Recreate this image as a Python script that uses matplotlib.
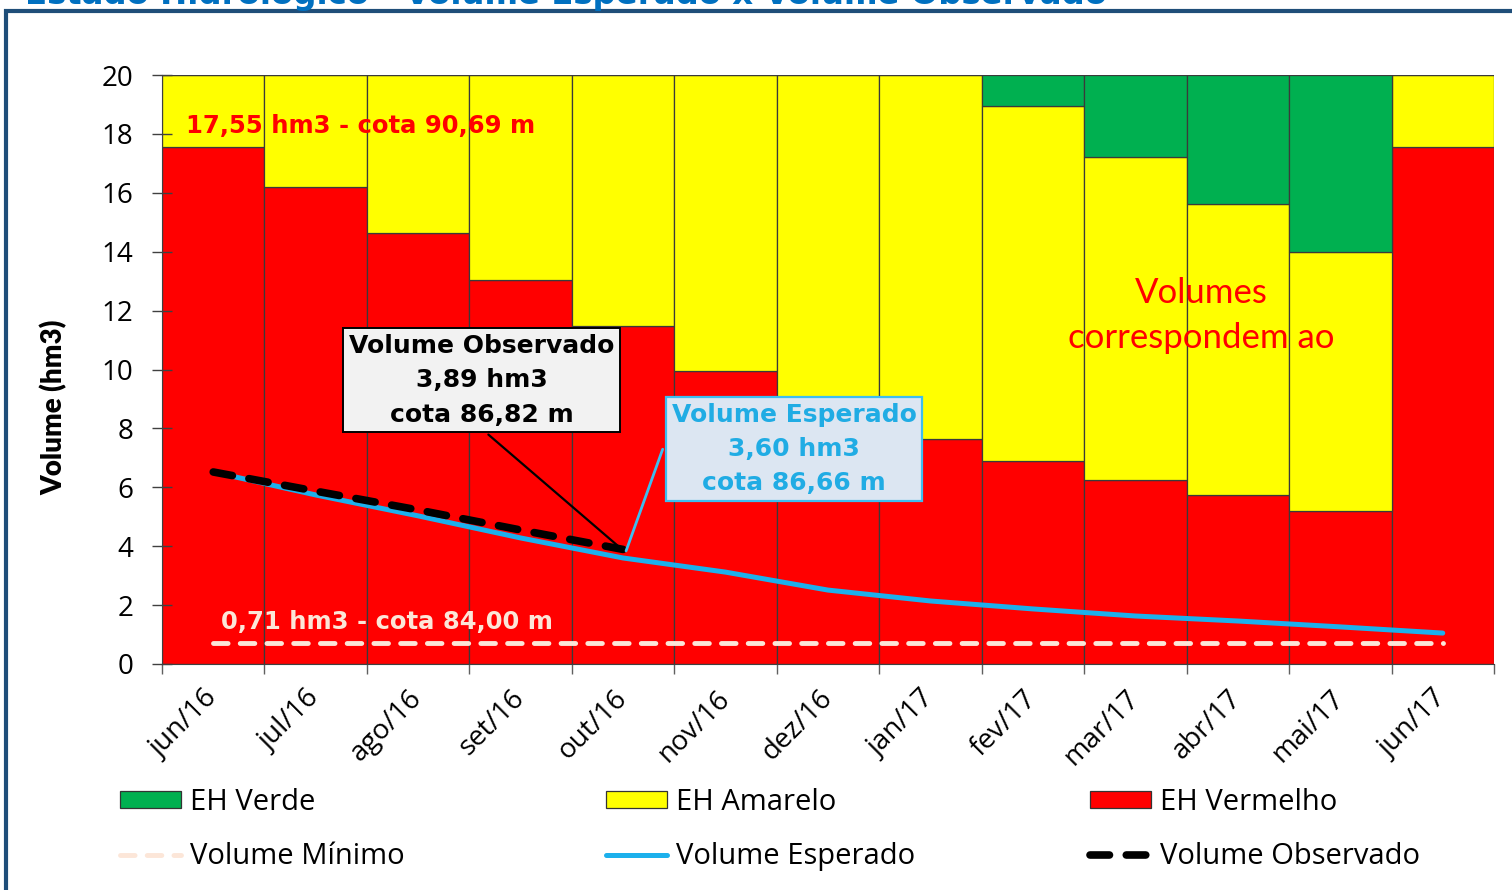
import numpy as np
import matplotlib.pyplot as plt
from matplotlib.patches import Patch, Rectangle
from matplotlib.lines import Line2D

meses = ["jun/16", "jul/16", "ago/16", "set/16", "out/16", "nov/16", "dez/16",
         "jan/17", "fev/17", "mar/17", "abr/17", "mai/17", "jun/17"]

# limites das faixas de estado hidrologico (hm3)
eh_vermelho = [17.55, 16.20, 14.63, 13.04, 11.48, 9.95, 8.80, 7.64, 6.89, 6.25, 5.74, 5.20, 17.55]
eh_amarelo_topo = [20, 20, 20, 20, 20, 20, 20, 20, 18.95, 17.22, 15.62, 13.99, 20]
volume_total = 20

vol_esperado = [6.52, 5.74, 5.03, 4.28, 3.60, 3.12, 2.51, 2.14, 1.87, 1.63, 1.46, 1.26, 1.05]
vol_observado = [6.52, 5.87, 5.23, 4.55, 3.89]
vol_minimo = 0.71

VERMELHO = "#FF0000"
AMARELO = "#FFFF00"
VERDE = "#00B050"
AZUL = "#1CB0EC"
PESSEGO = "#FCE6D8"

x = np.arange(len(meses))
amarelo = np.array(eh_amarelo_topo) - np.array(eh_vermelho)
verde = volume_total - np.array(eh_amarelo_topo)

fig = plt.figure(figsize=(15.12, 8.9), dpi=100)
ax = fig.add_axes([162 / 1512, 1 - 664 / 890, (1494 - 162) / 1512, (664 - 75) / 890])

bar_kw = dict(width=1.0, edgecolor="#3a3a3a", linewidth=0.9, zorder=1)
ax.bar(x, eh_vermelho, color=VERMELHO, **bar_kw)
ax.bar(x, amarelo, bottom=eh_vermelho, color=AMARELO, **bar_kw)
ax.bar(x, verde, bottom=eh_amarelo_topo, color=VERDE, **bar_kw)

estilo_min = dict(color=PESSEGO, lw=3.5, dashes=(3.0, 2.5), dash_capstyle="round")
estilo_esp = dict(color=AZUL, lw=3.6, solid_capstyle="round")
estilo_obs = dict(color="black", lw=5.5, dashes=(2.55, 2.2), dash_capstyle="round")

ax.plot(x, [vol_minimo] * len(x), zorder=3, **estilo_min)
ax.plot(x, vol_esperado, zorder=4, **estilo_esp)
ax.plot(x[:len(vol_observado)], vol_observado, zorder=5, **estilo_obs)

ax.set_xlim(-0.5, len(x) - 0.5)
ax.set_ylim(0, 20)
ax.set_yticks(range(0, 21, 2))
ax.tick_params(axis="y", direction="inout", length=15, width=1, color="#404040",
               labelsize=20, pad=13)
ax.set_xticks(x)
ax.set_xticklabels(meses, rotation=45, ha="right", va="center", rotation_mode="anchor")
ax.set_xticks(np.arange(-0.5, len(x)), minor=True)
ax.tick_params(axis="x", which="major", length=0, labelsize=20, pad=22)
ax.tick_params(axis="x", which="minor", direction="out", length=7, width=1, color="#606060")
for lab in ax.get_xticklabels() + ax.get_yticklabels():
    lab.set_fontfamily("Open Sans")
for s in ["top", "right"]:
    ax.spines[s].set_visible(False)
ax.spines["left"].set_color("#404040")
ax.spines["bottom"].set_color("#404040")
ax.set_ylabel("Volume (hm3)", fontsize=20, fontweight="heavy", family="Lato")
ax.yaxis.set_label_coords(-0.0706, 0.436)

# textos dentro do grafico
ax.text(-0.27, 18.27, "17,55 hm3 - cota 90,69 m", color=VERMELHO, fontsize=17.5,
        fontweight="bold", va="center", ha="left", zorder=6)
ax.text(0.08, 1.43, "0,71 hm3 - cota 84,00 m", color=PESSEGO, fontsize=17.5,
        fontweight="bold", va="center", ha="left", zorder=6)
ax.text(9.64, 11.85, "Volumes\ncorrespondem ao", color=VERMELHO, fontsize=25,
        family="Lato", ha="center", va="center", linespacing=1.5, zorder=6)

ax.annotate("Volume Observado\n3,89 hm3\ncota 86,82 m", xy=(3.99, vol_observado[-1]),
            xytext=(2.62, 9.64), ha="center", va="center", fontsize=18,
            fontweight="bold", color="black", linespacing=1.55,
            bbox=dict(boxstyle="square,pad=0.22", facecolor="#F2F2F2", edgecolor="black", lw=1.4),
            arrowprops=dict(arrowstyle="-", color="black", lw=1.6, relpos=(0.49, 0)),
            zorder=7)
ax.annotate("Volume Esperado\n3,60 hm3\ncota 86,66 m", xy=(4.02, vol_esperado[4] + 0.15),
            xytext=(5.67, 7.30), ha="center", va="center", fontsize=18,
            fontweight="bold", color="#20ACE4", linespacing=1.55,
            bbox=dict(boxstyle="square,pad=0.22", facecolor="#DCE6F2", edgecolor="#3DBEEF", lw=1.6),
            arrowprops=dict(arrowstyle="-", color="#3DBEEF", lw=2,
                            connectionstyle="arc,angleA=180,armA=9,angleB=73,armB=0,rad=0",
                            relpos=(0, 0.5)),
            zorder=7)

# legenda em tres colunas
colunas = [
    [Patch(facecolor=VERDE, edgecolor="#333333", lw=0.9, label="EH Verde"),
     Line2D([], [], label="Volume Mínimo", **estilo_min)],
    [Patch(facecolor=AMARELO, edgecolor="#333333", lw=0.9, label="EH Amarelo"),
     Line2D([], [], label="Volume Esperado", **estilo_esp)],
    [Patch(facecolor=VERMELHO, edgecolor="#333333", lw=0.9, label="EH Vermelho"),
     Line2D([], [], label="Volume Observado", **estilo_obs)],
]
for col, xpx in zip(colunas, [120, 606, 1090]):
    fig.legend(handles=col, loc="upper left", bbox_to_anchor=(xpx / 1512, 1 - 788 / 890),
               frameon=False, borderpad=0, borderaxespad=0, handlelength=2.1,
               handleheight=0.55, handletextpad=0.31, labelspacing=0.86,
               prop=dict(family="Open Sans", size=21))

# moldura e titulo cortado
fig.patches.append(Rectangle((6 / 1512, -0.1), 1.2, 1.1 - 11 / 890, transform=fig.transFigure,
                             fill=False, edgecolor="#1F4E79", lw=3, zorder=0))
fig.text(25 / 1512, 1 - 4 / 890, "Estado Hidrológico - Volume Esperado x Volume Observado",
         color="#0070C0", fontsize=23.3, fontweight="bold", ha="left", va="baseline")

fig.savefig("out.png", dpi=100)
